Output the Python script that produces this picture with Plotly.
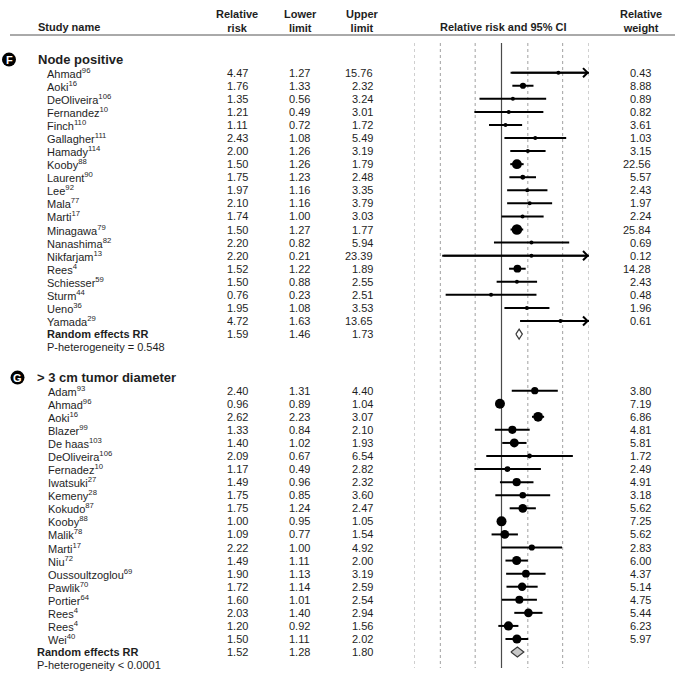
import numpy as np
import plotly.graph_objects as go

W, H = 686, 682          # canvas
ROW0_PX, ROW_PX = 59.6, 13.07

# ---------------- data ----------------
names_F = ["Ahmad", "Aoki", "DeOliveira", "Fernandez", "Finch", "Gallagher", "Hamady", "Kooby",
           "Laurent", "Lee", "Mala", "Marti", "Minagawa", "Nanashima", "Nikfarjam", "Rees",
           "Schiesser", "Sturm", "Ueno", "Yamada"]
refs_F = ["96", "16", "106", "10", "110", "111", "114", "88", "90", "92", "77", "17", "79", "82",
          "13", "4", "59", "44", "36", "29"]
rr_F = [4.47, 1.76, 1.35, 1.21, 1.11, 2.43, 2.00, 1.50, 1.75, 1.97, 2.10, 1.74, 1.50, 2.20, 2.20,
        1.52, 1.50, 0.76, 1.95, 4.72]
lo_F = [1.27, 1.33, 0.56, 0.49, 0.72, 1.08, 1.26, 1.26, 1.23, 1.16, 1.16, 1.00, 1.27, 0.82, 0.21,
        1.22, 0.88, 0.23, 1.08, 1.63]
up_F = [15.76, 2.32, 3.24, 3.01, 1.72, 5.49, 3.19, 1.79, 2.48, 3.35, 3.79, 3.03, 1.77, 5.94, 23.39,
        1.89, 2.55, 2.51, 3.53, 13.65]
w_F = [0.43, 8.88, 0.89, 0.82, 3.61, 1.03, 3.15, 22.56, 5.57, 2.43, 1.97, 2.24, 25.84, 0.69, 0.12,
       14.28, 2.43, 0.48, 1.96, 0.61]
pooled_F = [1.59, 1.46, 1.73]
het_F = "P-heterogeneity = 0.548"

names_G = ["Adam", "Ahmad", "Aoki", "Blazer", "De haas", "DeOliveira", "Fernadez", "Iwatsuki",
           "Kemeny", "Kokudo", "Kooby", "Malik", "Marti", "Niu", "Oussoultzoglou", "Pawlik",
           "Portier", "Rees", "Rees", "Wei"]
refs_G = ["93", "96", "16", "99", "103", "106", "10", "27", "28", "87", "88", "78", "17", "72",
          "69", "70", "64", "4", "4", "40"]
rr_G = [2.40, 0.96, 2.62, 1.33, 1.40, 2.09, 1.17, 1.49, 1.75, 1.75, 1.00, 1.09, 2.22, 1.49, 1.90,
        1.72, 1.60, 2.03, 1.20, 1.50]
lo_G = [1.31, 0.89, 2.23, 0.84, 1.02, 0.67, 0.49, 0.96, 0.85, 1.24, 0.95, 0.77, 1.00, 1.11, 1.13,
        1.14, 1.01, 1.40, 0.92, 1.11]
up_G = [4.40, 1.04, 3.07, 2.10, 1.93, 6.54, 2.82, 2.32, 3.60, 2.47, 1.05, 1.54, 4.92, 2.00, 3.19,
        2.59, 2.54, 2.94, 1.56, 2.02]
w_G = [3.80, 7.19, 6.86, 4.81, 5.81, 1.72, 2.49, 4.91, 3.18, 5.62, 7.25, 5.62, 2.83, 6.00, 4.37,
       5.14, 4.75, 5.44, 6.23, 5.97]
pooled_G = [1.52, 1.28, 1.80]
het_G = "P-heterogeneity < 0.0001"

grid_values = [0.1, 0.2, 0.5, 2, 5, 10]
null_value = 1
x_min, x_max = 0.1, 10

col_headers = ["Study name", "Relative<br>risk", "Lower<br>limit", "Upper<br>limit",
               "Relative risk and 95% CI", "Relative<br>weight"]

# ---------------- layout helpers ----------------
FONT = "Liberation Sans, Arial, Helvetica, sans-serif"
TXT = "#1e1e1e"


def prow(p):  # pixel (y) -> row units
    return (p - ROW0_PX) / ROW_PX


def pxx(p):  # pixel (x) -> paper
    return p / W


def pxy(p):  # pixel (y) -> paper
    return 1 - p / H


annotations = []
shapes = []


def add_text(text, xpx, y, anchor="left", size=11, bold=False, yref="y", color=TXT):
    annotations.append(dict(text=f"<b>{text}</b>" if bold else text, x=pxx(xpx), xref="paper",
                            y=y, yref=yref, xanchor=anchor, yanchor="middle", showarrow=False,
                            font=dict(family=FONT, size=size, color=color),
                            borderpad=0, borderwidth=0))


sections = [
    dict(letter="F", title="Node positive", names=names_F, refs=refs_F, rr=rr_F, lo=lo_F, up=up_F,
         w=w_F, pooled=pooled_F, het=het_F, start=0.0, badge_x=9, title_x=38, name_x=47, sub_x=47,
         fill="white", maxsize=10.5),
    dict(letter="G", title="&gt; 3 cm tumor diameter", names=names_G, refs=refs_G, rr=rr_G,
         lo=lo_G, up=up_G, w=w_G, pooled=pooled_G, het=het_G, start=24.33, badge_x=17.5,
         title_x=37, name_x=48, sub_x=37, fill="#c8c8c8", maxsize=10.0),
]

fig = go.Figure()

# grid lines
top_r, bot_r = prow(43), prow(668)
gx, gy = [], []
for v in grid_values:
    gx += [v, v, None]
    gy += [top_r, bot_r, None]
fig.add_trace(go.Scatter(x=gx, y=gy, mode="lines", hoverinfo="skip",
                         line=dict(color="#a0a0a0", width=1, dash="3px,3px")))
fig.add_trace(go.Scatter(x=[null_value, null_value], y=[top_r, bot_r], mode="lines",
                         hoverinfo="skip", line=dict(color="#4a4a4a", width=1.2)))

# header
add_text(col_headers[0], 38, pxy(27), "left", bold=True, yref="paper")
add_text(col_headers[1], 237, pxy(21), "center", bold=True, yref="paper")
add_text(col_headers[2], 300, pxy(21), "center", bold=True, yref="paper")
add_text(col_headers[3], 362, pxy(21), "center", bold=True, yref="paper")
add_text(col_headers[4], 503, pxy(27), "center", bold=True, yref="paper")
add_text(col_headers[5], 641, pxy(21), "center", bold=True, yref="paper")
shapes.append(dict(type="line", xref="paper", yref="paper", x0=pxx(10), x1=pxx(675),
                   y0=pxy(35), y1=pxy(35), line=dict(color="#555555", width=1)))

for s in sections:
    r0 = s["start"]
    n = len(s["names"])
    rows = [r0 + 1 + i for i in range(n)]
    # badge
    cy = ROW0_PX + ROW_PX * r0
    rad = 7
    shapes.append(dict(type="circle", xref="paper", yref="paper",
                       x0=pxx(s["badge_x"] - rad), x1=pxx(s["badge_x"] + rad),
                       y0=pxy(cy + rad), y1=pxy(cy - rad),
                       fillcolor="black", line=dict(width=0)))
    add_text(s["letter"], s["badge_x"], r0, "center", size=11, bold=True, color="white")
    add_text(s["title"], s["title_x"], r0, "left", size=13, bold=True)

    for i, r in enumerate(rows):
        add_text(f"{s['names'][i]}<sup>{s['refs'][i]}</sup>", s["name_x"], r, "left")
        add_text(f"{s['rr'][i]:.2f}", 248, r, "right")
        add_text(f"{s['lo'][i]:.2f}", 310, r, "right")
        add_text(f"{s['up'][i]:.2f}", 373, r, "right")
        add_text(f"{s['w'][i]:.2f}", 651, r, "right")

    # CI lines
    lx, ly = [], []
    for i, r in enumerate(rows):
        lx += [s["lo"][i], s["up"][i], None]
        ly += [r, r, None]
    fig.add_trace(go.Scatter(x=lx, y=ly, mode="lines", hoverinfo="skip",
                             line=dict(color="black", width=2)))
    # arrows for CIs beyond the axis
    for i, r in enumerate(rows):
        if s["up"][i] > x_max:
            annotations.append(dict(x=np.log10(x_max), y=r, xref="x", yref="y",
                                    ax=np.log10(s["lo"][i]), ay=r, axref="x", ayref="y",
                                    showarrow=True, arrowhead=4, arrowsize=1.1, arrowwidth=1.6,
                                    arrowcolor="black", text="", standoff=0))
    # point estimates
    wmax = max(s["w"])
    sizes = [max(4.0, s["maxsize"] * np.sqrt(w / wmax)) for w in s["w"]]
    fig.add_trace(go.Scatter(x=s["rr"], y=rows, mode="markers", hoverinfo="skip",
                             marker=dict(color="black", size=sizes, symbol="circle",
                                         opacity=1, line=dict(width=0))))
    # pooled
    rp = r0 + 1 + n
    est, plo, pup = s["pooled"]
    hh = 0.38
    fig.add_trace(go.Scatter(x=[plo, est, pup, est, plo], y=[rp, rp - hh, rp, rp + hh, rp],
                             mode="lines", fill="toself", fillcolor=s["fill"], hoverinfo="skip",
                             line=dict(color="#3a3a3a", width=1.2)))
    add_text("Random effects RR", s["sub_x"], rp, "left", bold=True)
    add_text(f"{est:.2f}", 248, rp, "right")
    add_text(f"{plo:.2f}", 310, rp, "right")
    add_text(f"{pup:.2f}", 373, rp, "right")
    add_text(s["het"], s["sub_x"], rp + 1, "left")

fig.update_layout(
    width=W, height=H, autosize=False,
    margin=dict(l=0, r=0, t=0, b=0, pad=0),
    paper_bgcolor="white", plot_bgcolor="white",
    showlegend=False,
    xaxis=dict(type="log", range=[np.log10(x_min), np.log10(x_max)],
               domain=[pxx(414), pxx(589)], visible=False, fixedrange=True),
    yaxis=dict(range=[prow(H), prow(0)], domain=[0, 1], visible=False, fixedrange=True),
    annotations=annotations,
    shapes=shapes,
)

fig.write_html("out.html", config={"displayModeBar": False},
               post_script="document.body.style.margin='0';document.body.style.overflow='hidden';")
